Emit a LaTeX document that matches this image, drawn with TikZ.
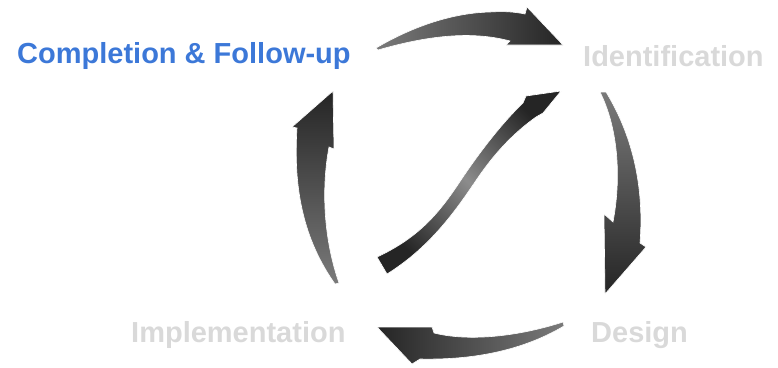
\documentclass[tikz,border=0pt]{standalone}
\usepackage{fontspec}
\setmainfont{Liberation Sans}
\definecolor{blueT}{HTML}{3C78D8}
\definecolor{grayT}{HTML}{D9D9D9}
\definecolor{darkA}{HTML}{252525}
\definecolor{lightA}{HTML}{7A7A7A}
\definecolor{midA}{HTML}{8C8C8C}
\tikzset{
  lbl/.style={anchor=base west, inner sep=0pt, font=\fontsize{29}{33}\selectfont\bfseries},
  arr/.style={draw=white, line width=0.6pt}
}
\begin{document}
\begin{tikzpicture}[x=1pt,y=-1pt]
\useasboundingbox (0,0) rectangle (778,367);
% text labels
\node[lbl, text=blueT] (comp) at (17,63) {Completion \& Follow-up};
\node[lbl, text=grayT] (ident) at (583,66) {Identification};
\node[lbl, text=grayT] (design) at (591,342) {Design};
\node[lbl, text=grayT] (impl) at (131,342) {Implementation};
% top arrow
\shade[arr, left color=lightA, right color=darkA]
  (376,48) .. controls (410,28) and (450,13) .. (490,12)
  .. controls (505,11) and (515,12) .. (525,14) -- (527,7) -- (563,45) -- (506,45) -- (510,41)
  .. controls (480,33) and (440,32) .. (378,50) -- cycle;
% right arrow
\shade[arr, top color=lightA, bottom color=darkA]
  (600,92) -- (606,92) .. controls (628,128) and (645,178) .. (640,243) -- (646,247) -- (605,294) -- (604,214) -- (613,222)
  .. controls (621,180) and (619,130) .. (600,92) -- cycle;
% bottom arrow
\shade[arr, left color=darkA, right color=lightA]
  (563,322) .. controls (520,336) and (470,342) .. (434,333) -- (432,327) -- (377,327) -- (412,364) -- (420,359)
  .. controls (470,360) and (520,352) .. (564,326) -- cycle;
% left arrow
\shade[arr, top color=darkA, bottom color=lightA]
  (333,91) -- (292,127) -- (297,128) .. controls (293,190) and (304,240) .. (335,284) -- (339,283)
  .. controls (324,240) and (321,190) .. (329,147) -- (334,149) -- cycle;
% diagonal arrow
\shade[arr, left color=darkA, right color=darkA, middle color=midA, shading angle=-45]
  (377,257) .. controls (418,238) and (438,214) .. (457,186)
  .. controls (478,154) and (502,123) .. (523,103) -- (526,96) -- (561,91) -- (543,113) -- (536,117)
  .. controls (508,137) and (490,160) .. (477,179)
  .. controls (458,207) and (432,246) .. (387,274) -- cycle;
\end{tikzpicture}
\end{document}
